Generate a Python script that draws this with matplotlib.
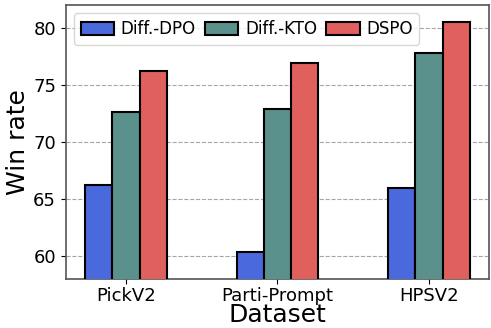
import matplotlib
matplotlib.use("Agg")
import matplotlib.pyplot as plt
import numpy as np

datasets = ["PickV2", "Parti-Prompt", "HPSV2"]
methods = ["Diff.-DPO", "Diff.-KTO", "DSPO"]
dpo = [66.2, 60.4, 66.0]
kto = [72.6, 72.9, 77.8]
dspo = [76.2, 76.9, 80.5]
colors = ["#4a69dd", "#5b918c", "#e0605e"]

x = np.arange(len(datasets))
w = 0.18

fig = plt.figure(figsize=(4.91, 3.28), dpi=100)
ax = fig.add_axes([0.134, 0.149, 0.862, 0.836])

for i, (vals, lab) in enumerate(zip([dpo, kto, dspo], methods)):
    ax.bar(x + (i - 1) * w, vals, w, label=lab, color=colors[i],
           edgecolor="black", linewidth=1.5, zorder=3)

ax.set_ylim(58, 82)
ax.set_xticks(x)
ax.set_xticklabels(datasets, fontsize=13)
ax.set_yticks([60, 65, 70, 75, 80])
ax.tick_params(axis="y", labelsize=13)
ax.tick_params(axis="x", pad=2)
ax.set_xlabel("Dataset", fontsize=18, labelpad=-1)
ax.set_ylabel("Win rate", fontsize=18, labelpad=2)
ax.grid(axis="y", linestyle="--", color="gray", alpha=0.7, zorder=0)
for s in ax.spines.values():
    s.set_color("#555555")
    s.set_linewidth(1.2)

ax.legend(loc="upper left", ncol=3, fontsize=12, handletextpad=0.4,
          columnspacing=0.55, borderaxespad=0.5, handleheight=0.8)

fig.savefig("out.png", dpi=100)
